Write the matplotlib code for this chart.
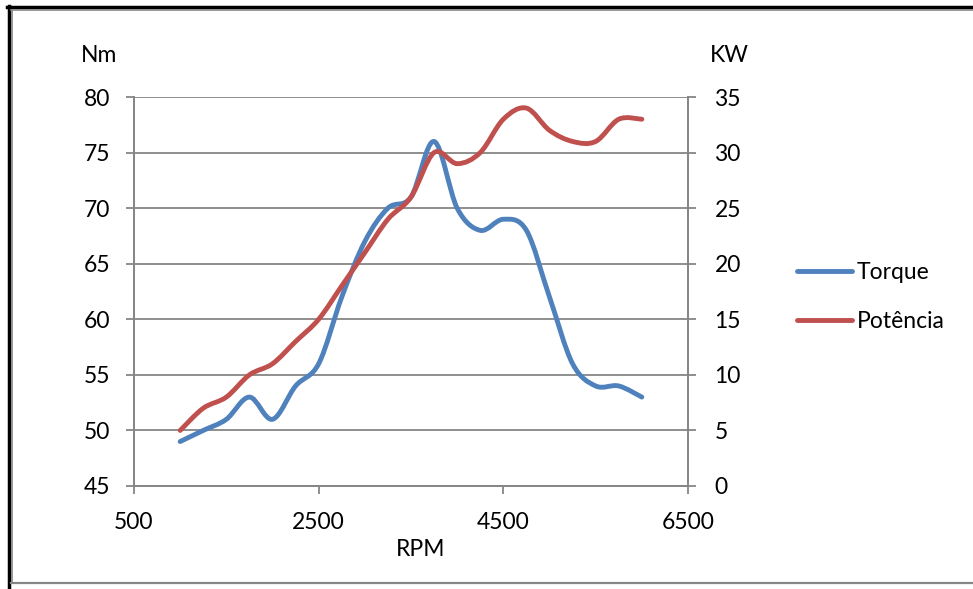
import numpy as np
import matplotlib.pyplot as plt
from matplotlib.path import Path
from matplotlib.patches import PathPatch
from matplotlib.lines import Line2D

plt.rcParams['font.family'] = ['Lato', 'DejaVu Sans']

rpm = [1000, 1250, 1500, 1750, 2000, 2250, 2500, 2750, 3000, 3250, 3500,
       3750, 4000, 4250, 4500, 4750, 5000, 5250, 5500, 5750, 6000]
torque = [49, 50, 51, 53, 51, 54, 56, 62, 67, 70, 71,
          76, 70, 68, 69, 68, 62, 56, 54, 54, 53]
potencia = [5, 7, 8, 10, 11, 13, 15, 18, 21, 24, 26,
            30, 29, 30, 33, 34, 32, 31, 31, 33, 33]

x_ticks = [500, 2500, 4500, 6500]
nm_ticks = [45, 50, 55, 60, 65, 70, 75, 80]
kw_ticks = [0, 5, 10, 15, 20, 25, 30, 35]

BLUE = '#4F81BD'
RED = '#C0504D'
GRAY = '#868686'
FS = 16.5


def smooth_path(x, y):
    # excel-like smoothed line: catmull-rom segments as cubic beziers
    pts = np.column_stack([x, y]).astype(float)
    p = np.vstack([pts[0], pts, pts[-1]])
    verts = [pts[0]]
    codes = [Path.MOVETO]
    for i in range(1, len(p) - 2):
        c1 = p[i] + (p[i + 1] - p[i - 1]) / 6
        c2 = p[i + 1] - (p[i + 2] - p[i]) / 6
        verts += [c1, c2, p[i + 1]]
        codes += [Path.CURVE4] * 3
    return Path(verts, codes)


fig = plt.figure(figsize=(9.73, 5.89), dpi=100)
ax = fig.add_axes([134 / 973, 1 - 486 / 589, 554 / 973, 389 / 589])
ax2 = ax.twinx()

ax.set_xlim(500, 6500)
ax.set_ylim(45, 80)
ax2.set_ylim(0, 35)
ax.set_xticks(x_ticks)
ax.set_yticks(nm_ticks)
ax2.set_yticks(kw_ticks)

for a in (ax, ax2):
    for s in a.spines.values():
        s.set_color(GRAY)
        s.set_linewidth(1.3)
    a.spines['top'].set_visible(False)
    a.tick_params(colors=GRAY, length=6, width=1.3, labelcolor='black',
                  labelsize=FS)
ax.tick_params(axis='y', pad=11)
ax2.tick_params(axis='y', pad=13)
ax.tick_params(axis='x', pad=13)
ax.grid(axis='y', color=GRAY, linewidth=1.3)
ax.set_axisbelow(True)

ax.add_patch(PathPatch(smooth_path(rpm, torque), fill=False, edgecolor=BLUE,
                       lw=3.5, capstyle='round', joinstyle='round',
                       transform=ax.transData))
ax2.add_patch(PathPatch(smooth_path(rpm, potencia), fill=False, edgecolor=RED,
                        lw=3.5, capstyle='round', joinstyle='round',
                        transform=ax2.transData))

ax.set_xlabel('RPM', fontsize=FS)
ax.xaxis.set_label_coords(0.518, -0.135)
fig.text(99 / 973, 1 - 56 / 589, 'Nm', fontsize=FS, ha='center', va='center')
fig.text(729 / 973, 1 - 55 / 589, 'KW', fontsize=FS, ha='center', va='center')

handles = [Line2D([], [], color=BLUE, lw=3.5, solid_capstyle='round'),
           Line2D([], [], color=RED, lw=3.5, solid_capstyle='round')]
fig.legend(handles, ['Torque', 'Potência'], loc='center left',
           bbox_to_anchor=(797 / 973, 1 - 297 / 589), frameon=False,
           borderpad=0, borderaxespad=0,
           fontsize=FS, handlelength=2.4, handletextpad=0.2, labelspacing=1.2)

# chart border
fig.add_artist(Line2D([7 / 973, 1], [1 - 7 / 589] * 2, color='black', lw=2.5))
fig.add_artist(Line2D([9 / 973] * 2, [0, 1 - 6 / 589], color='black', lw=2.5))
fig.add_artist(Line2D([11 / 973, 1], [1 - 10 / 589] * 2, color=GRAY, lw=1.2))
fig.add_artist(Line2D([12 / 973] * 2, [1 - 583 / 589, 1 - 10 / 589], color=GRAY, lw=1.2))
fig.add_artist(Line2D([11 / 973, 1], [1 - 583 / 589] * 2, color=GRAY, lw=1.6))

fig.savefig('out.png', dpi=100)
